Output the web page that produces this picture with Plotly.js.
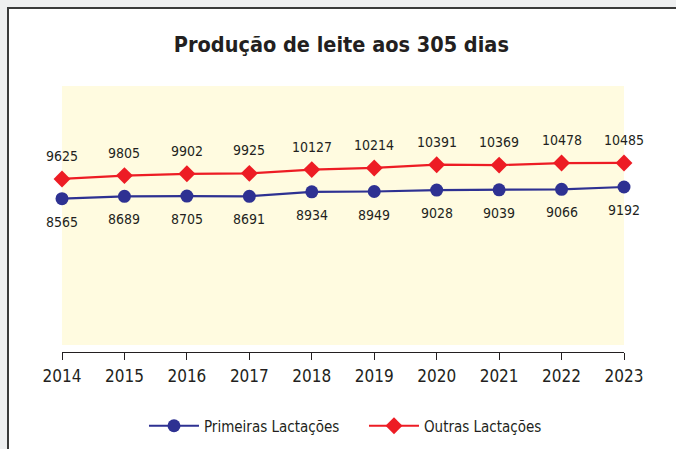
<!DOCTYPE html>
<html>
<head>
<meta charset="utf-8">
<script src="https://cdn.plot.ly/plotly-3.0.1.min.js"></script>
<style>
html,body{margin:0;padding:0;background:#eeeff0;overflow:hidden;}
#frame{position:absolute;left:7px;top:7px;width:720px;height:520px;background:#fff;border:2px solid #3a3a3a;box-sizing:border-box;}
#chart{position:absolute;left:0;top:0;width:676px;height:449px;}
</style>
</head>
<body>
<div id="frame"></div>
<div id="chart"></div>
<script>
const years = [2014, 2015, 2016, 2017, 2018, 2019, 2020, 2021, 2022, 2023];
const primeiras = [8565, 8689, 8705, 8691, 8934, 8949, 9028, 9039, 9066, 9192];
const outras = [9625, 9805, 9902, 9925, 10127, 10214, 10391, 10369, 10478, 10485];
const seriesNames = ["Primeiras Lactações", "Outras Lactações"];
const titleText = "Produção de leite aos 305 dias";

const FONT = '"DejaVu Sans Condensed", "Liberation Sans Narrow", sans-serif';
const TXT = '#231f20';
const BLUE = '#2e3192';
const RED = '#ed1c24';

const traces = [
  {x: years, y: primeiras, name: seriesNames[0], type: 'scatter', mode: 'lines+markers',
   line: {color: BLUE, width: 2.2}, marker: {color: BLUE, size: 13, symbol: 'circle'}, cliponaxis: false},
  {x: years, y: outras, name: seriesNames[1], type: 'scatter', mode: 'lines+markers',
   line: {color: RED, width: 2.2}, marker: {color: RED, size: 13, symbol: 'diamond'}, cliponaxis: false}
];

const annotations = [];
years.forEach((yr, i) => {
  annotations.push({x: yr, y: outras[i], text: String(outras[i]), showarrow: false,
    yshift: 23, font: {family: FONT, size: 14, color: TXT}});
  annotations.push({x: yr, y: primeiras[i], text: String(primeiras[i]), showarrow: false,
    yshift: -23, font: {family: FONT, size: 14, color: TXT}});
});

const layout = {
  width: 676, height: 449,
  paper_bgcolor: 'rgba(0,0,0,0)',
  plot_bgcolor: '#fffbe0',
  margin: {l: 62, r: 52, t: 86, b: 97},
  title: {text: '<b>' + titleText + '</b>', x: 0.505, xref: 'container', xanchor: 'center',
          y: 0.9, yref: 'container', yanchor: 'middle',
          font: {family: FONT, size: 21.5, color: TXT}},
  xaxis: {range: [2014, 2023], tickvals: years, ticktext: years.map(String),
          showgrid: false, zeroline: false, showline: true, linecolor: TXT, linewidth: 1,
          ticks: 'outside', ticklen: 7, tickcolor: TXT, tickwidth: 1,
          anchor: 'free', position: 0, ticklabelstandoff: 2, automargin: false,
          tickfont: {family: FONT, size: 17, color: TXT}, fixedrange: true},
  yaxis: {range: [699, 14620], domain: [0.0263, 1], visible: false, showgrid: false,
          zeroline: false, fixedrange: true},
  showlegend: true,
  legend: {orientation: 'h', xref: 'container', yref: 'container',
           x: 0.213, xanchor: 'left', y: 0.0512, yanchor: 'middle',
           itemwidth: 50, entrywidth: 155,
           font: {family: FONT, size: 15, color: TXT}, bgcolor: 'rgba(0,0,0,0)'},
  annotations: annotations
};

Plotly.newPlot('chart', traces, layout, {displayModeBar: false, staticPlot: true});
</script>
</body>
</html>
